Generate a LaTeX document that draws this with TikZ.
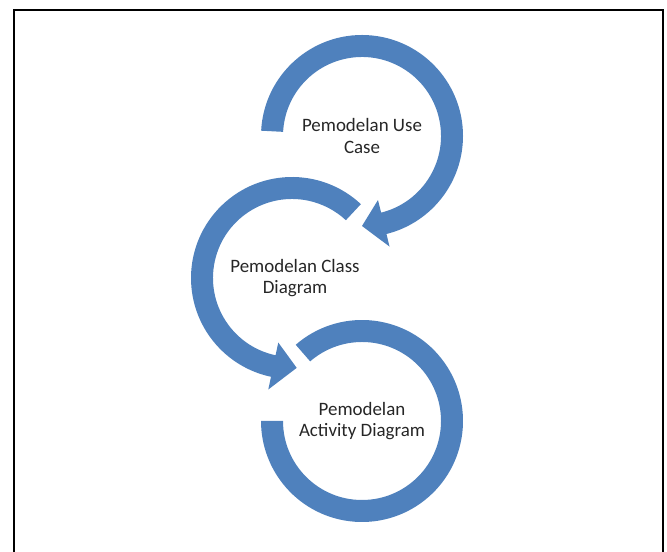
\documentclass[tikz,border=0pt]{standalone}
\usepackage{fontspec}
\setmainfont{Carlito}
\definecolor{ringblue}{RGB}{79,129,189}
\definecolor{txt}{RGB}{38,38,38}
\begin{document}
\begin{tikzpicture}[x=0.75pt,y=0.75pt,
  ring/.style={fill=ringblue,draw=none},
  label/.style={align=center,text=txt,font=\fontsize{14.2}{15.8}\selectfont,inner sep=0pt},
  frame/.style={draw=black,line width=1.6pt}]
\useasboundingbox (0,0) rectangle (667,552);
% frame
\draw[frame] (14,-5) -- (14,542) -- (663,542) -- (663,-5);
% centres
\coordinate (c1) at (362,416);
\coordinate (c2) at (292,274);
\coordinate (c3) at (362,131);
% ring 1 (clockwise, arrow at bottom)
\begin{scope}[shift={(c1)}]
\fill[ring] (177:101) arc[start angle=177,end angle=-76,radius=101]
  -- (-76:114) -- (-90:90) -- (-76:66) -- (-76:79)
  arc[start angle=-76,end angle=177,radius=79] -- cycle;
\end{scope}
% ring 2 (counter-clockwise, arrow at bottom)
\begin{scope}[shift={(c2)}]
\fill[ring] (47:101) arc[start angle=47,end angle=258,radius=101]
  -- (258:114) -- (273:90) -- (258:66) -- (258:79)
  arc[start angle=258,end angle=47,radius=79] -- cycle;
\end{scope}
% ring 3 (plain arc)
\begin{scope}[shift={(c3)}]
\fill[ring] (131:101) arc[start angle=131,end angle=-180,radius=101]
  -- (-180:79) arc[start angle=-180,end angle=131,radius=79] -- cycle;
\end{scope}
% labels
\node[label] (t1) at (362,416) {Pemodelan Use\\Case};
\node[label] (t2) at (295,274) {Pemodelan Class\\Diagram};
\node[label] (t3) at (362,131) {Pemodelan\\Activity Diagram};
\end{tikzpicture}
\end{document}
